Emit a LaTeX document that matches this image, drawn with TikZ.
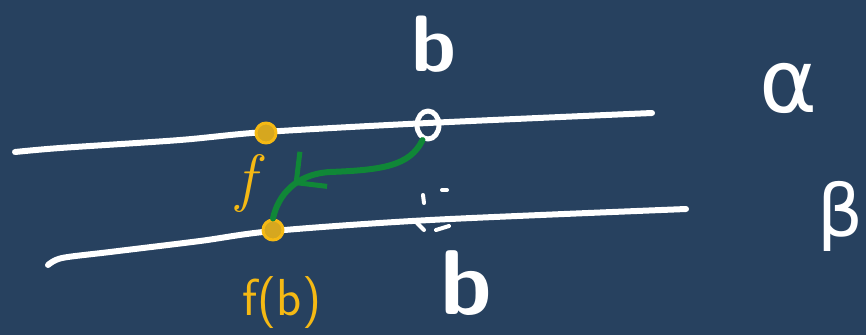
\documentclass[tikz,border=0pt]{standalone}
\usepackage{fontspec}
\newfontfamily\greekfont{DejaVu Sans}
\usepackage{tikz}
\usetikzlibrary{positioning,shapes.geometric,decorations.markings,arrows.meta}
\definecolor{board}{RGB}{39,65,95}
\definecolor{chalkyellow}{RGB}{245,185,20}
\definecolor{chalkgreen}{RGB}{16,135,55}

\begin{document}
\begin{tikzpicture}[x=1pt, y=-1pt, line cap=round, line join=round,
    chalk/.style={white, line width=6pt},
    ring/.style={ellipse, draw=white, line width=5pt, minimum width=22pt, minimum height=28pt, inner sep=0pt},
    ydot/.style={circle, draw=chalkyellow, fill=chalkyellow!85!board, line width=3pt, minimum size=20pt, inner sep=0pt},
    bigtext/.style={white, font=\fontsize{80}{80}\selectfont\sffamily\bfseries, inner sep=0pt},
    greektext/.style={white, font=\fontsize{88}{88}\selectfont\greekfont, inner sep=0pt},
    ytext/.style={chalkyellow, font=\fontsize{52}{52}\selectfont\sffamily, inner sep=0pt},
    greenarrow/.style={chalkgreen, line width=6pt,
      postaction={decorate, decoration={markings,
        mark=at position 0.78 with {\arrow[line width=5pt]{Straight Barb[length=22pt, width=44pt]}}}}}]
  \fill[board] (0,0) rectangle (866,335);
  \useasboundingbox (0,0) rectangle (866,335);

  % the two lines
  \draw[chalk] plot[smooth] coordinates {(15,152) (60,148) (180,140) (265,132) (428,123) (652,113)};
  \draw[chalk] plot[smooth] coordinates {(48,265) (62,258) (110,252) (200,241) (273,231) (430,220) (686,209)};

  % points
  \node[ring] (bdot) at (428,125) {};
  \node[ydot] (fa) at (266,133) {};
  \node[ydot] (fb) at (273,230) {};

  % labels
  \node[bigtext] (btop) at (434,44) {b};
  \node[bigtext, font=\fontsize{92}{92}\selectfont\sffamily\bfseries] (bbot) at (466,283) {b};
  \node[greektext] (alpha) at (788,88) {α};
  \node[greektext, font=\fontsize{72}{72}\selectfont\greekfont] (beta) at (840,216) {β};
  \node[ytext] (fblabel) at (282,303) {f(b)};
  \node[ytext, font=\fontsize{64}{64}\selectfont\itshape] (flabel) at (246,183) {f};

  % small marks under b
  \draw[white, line width=4pt] (423,195) -- (424,203);
  \draw[white, line width=4pt] (442,190) -- (447,190);
  \draw[white, line width=4pt] (417,223) -- (424,230);
  \draw[white, line width=4pt] (436,230) -- (449,226);

  % the map
  \draw[greenarrow] (bdot.250) .. controls (410,166) and (382,170) .. (330,172)
    .. controls (296,174) and (278,195) .. (fb.north);
\end{tikzpicture}
\end{document}
